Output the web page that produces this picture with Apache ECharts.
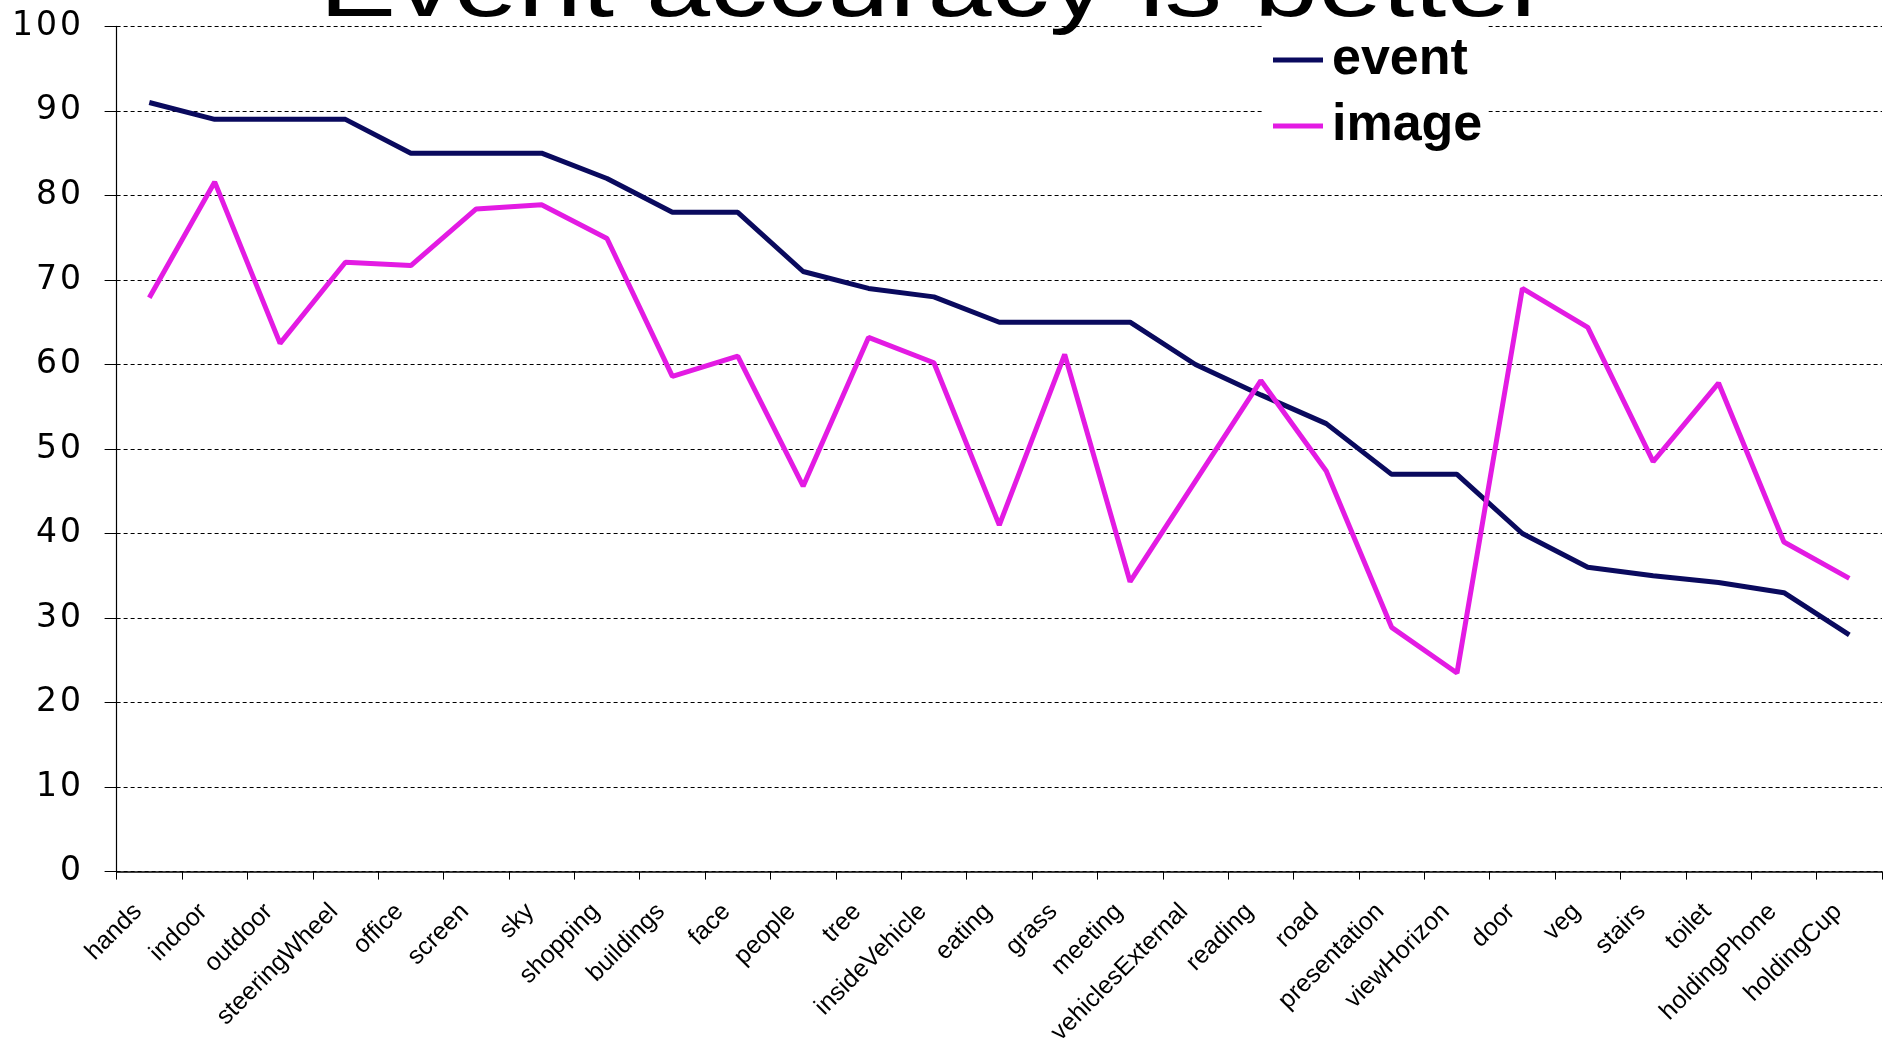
<!DOCTYPE html>
<html>
<head>
<meta charset="utf-8">
<title>Event accuracy is better</title>
<script src="https://cdn.jsdelivr.net/npm/echarts@6/dist/echarts.min.js"></script>
<style>
  html, body { margin: 0; padding: 0; background: #fff; }
  #chart { width: 1885px; height: 1044px; }
</style>
</head>
<body>
<div id="chart"></div>
<script>
// Concept categories along the x axis
const categories = [
  'hands', 'indoor', 'outdoor', 'steeringWheel', 'office', 'screen', 'sky',
  'shopping', 'buildings', 'face', 'people', 'tree', 'insideVehicle', 'eating',
  'grass', 'meeting', 'vehiclesExternal', 'reading', 'road', 'presentation',
  'viewHorizon', 'door', 'veg', 'stairs', 'toilet', 'holdingPhone', 'holdingCup'
];

// Accuracy (%) per concept
const eventAccuracy = [
  91, 89, 89, 89, 85, 85, 85, 82, 78, 78, 71, 69, 68, 65,
  65, 65, 60, 56.4, 53, 47, 47, 40, 36, 35, 34.2, 33, 28
];
const imageAccuracy = [
  67.9, 81.6, 62.5, 72.1, 71.7, 78.4, 78.9, 74.9, 58.6, 61, 45.6, 63.2, 60.2, 41,
  61.2, 34.3, 46.2, 58.1, 47.4, 28.9, 23.5, 69, 64.4, 48.5, 57.8, 39, 34.7
];

const seriesNames = ['event', 'image'];
const titleText = 'Event accuracy is better';

const chart = echarts.init(document.getElementById('chart'), null, { renderer: 'canvas' });

const option = {
  backgroundColor: '#ffffff',
  animation: false,
  graphic: [{
    // oversized heading, mostly running off the top edge
    type: 'text',
    x: 934,
    y: -9,
    scaleX: 1.28,
    z: 10,
    style: {
      text: titleText,
      font: '90px "Liberation Sans", Arial, sans-serif',
      fill: '#000',
      align: 'center',
      verticalAlign: 'middle'
    }
  }],
  legend: {
    data: seriesNames,
    orient: 'vertical',
    left: 1262,
    top: 24,
    padding: [6, 6, 4, 11],
    backgroundColor: '#ffffff',
    itemWidth: 50,
    itemHeight: 5,
    itemGap: 6,
    icon: 'rect',
    z: 5,
    textStyle: {
      fontSize: 52,
      fontWeight: 'bold',
      fontFamily: '"Liberation Sans", Arial, sans-serif',
      color: '#000',
      lineHeight: 60,
      padding: [0, 0, 0, 4]
    }
  },
  grid: {
    left: 116.6,
    right: 3,
    top: 26.4,
    bottom: 172.4,
    containLabel: false,
    outerBoundsMode: 'none'
  },
  xAxis: {
    type: 'category',
    data: categories,
    boundaryGap: true,
    axisLine: { show: true, lineStyle: { color: '#000', width: 1.5 } },
    axisTick: { show: true, interval: 0, length: 8, lineStyle: { color: '#000', width: 1 } },
    axisLabel: {
      interval: 0,
      rotate: 45,
      margin: 25,
      padding: [0, 16, 0, 0],
      fontSize: 25,
      fontFamily: '"Liberation Sans", Arial, sans-serif',
      color: '#000'
    },
    splitLine: { show: false }
  },
  yAxis: {
    type: 'value',
    min: 0,
    max: 100,
    interval: 10,
    axisLine: { show: true, lineStyle: { color: '#000', width: 1.2 } },
    axisTick: { show: true, length: 12, lineStyle: { color: '#000', width: 1 } },
    axisLabel: {
      margin: 34,
      // wide-set digits
      formatter: function (v) {
        return String(v).split('').map(function (c) { return '{d|' + c + '}'; }).join('');
      },
      rich: {
        d: {
          width: 24,
          align: 'center',
          fontSize: 33,
          fontFamily: '"DejaVu Sans", sans-serif',
          color: '#000'
        }
      }
    },
    splitLine: {
      show: true,
      lineStyle: { color: '#000', width: 1, type: [4, 3] }
    }
  },
  series: [
    {
      name: seriesNames[0],
      type: 'line',
      data: eventAccuracy,
      showSymbol: false,
      symbol: 'none',
      color: '#0a0a5e',
      lineStyle: { color: '#0a0a5e', width: 5 }
    },
    {
      name: seriesNames[1],
      type: 'line',
      data: imageAccuracy,
      showSymbol: false,
      symbol: 'none',
      color: '#e31be3',
      lineStyle: { color: '#e31be3', width: 5 }
    }
  ]
};

chart.setOption(option);
</script>
</body>
</html>
